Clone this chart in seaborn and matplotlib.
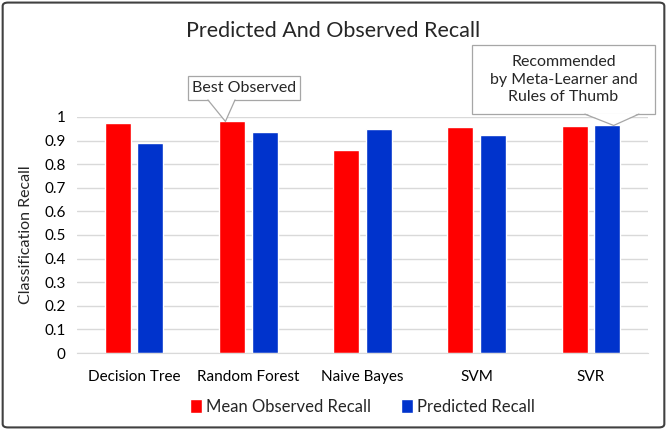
import pandas as pd
import matplotlib.pyplot as plt
import seaborn as sns
from matplotlib.patches import FancyBboxPatch, Rectangle, Polygon

models = ["Decision Tree", "Random Forest", "Naive Bayes", "SVM", "SVR"]
observed = [0.974, 0.981, 0.861, 0.959, 0.963]
predicted = [0.891, 0.936, 0.950, 0.925, 0.964]
series = ["Mean Observed Recall", "Predicted Recall"]
yticks = [0, 0.1, 0.2, 0.3, 0.4, 0.5, 0.6, 0.7, 0.8, 0.9, 1]
ytick_labels = ["0", "0.1", "0.2", "0.3", "0.4", "0.5", "0.6", "0.7", "0.8", "0.9", "1"]

df = pd.DataFrame({
    "Model": models * 2,
    "Series": [series[0]] * len(models) + [series[1]] * len(models),
    "Recall": observed + predicted,
})

sns.set_style("white")
plt.rcParams['font.family'] = ['Lato', 'DejaVu Sans']

fig = plt.figure(figsize=(6.67, 4.3), dpi=100)
ax = fig.add_axes([0.1154, 0.179, 0.856, 0.549])

sns.barplot(data=df, x="Model", y="Recall", hue="Series",
            palette=["#FF0000", "#0033CC"], saturation=1, width=0.57, gap=0.2,
            ax=ax, legend=True)

ax.set_ylim(0, 1)
ax.set_xlim(-0.5, len(models) - 0.5)
ax.set_yticks(yticks)
ax.set_yticklabels(ytick_labels)
ax.yaxis.grid(True, color="#D9D9D9", linewidth=1)
ax.set_axisbelow(True)
for s in ["top", "right", "left"]:
    ax.spines[s].set_visible(False)
ax.spines["bottom"].set_color("#D9D9D9")
ax.tick_params(axis="both", length=0, labelsize=11, colors="#000000", pad=8)
ax.tick_params(axis="x", pad=12)
ax.set_xlabel("")
ax.set_ylabel("Classification Recall", fontsize=11.5, labelpad=8)

ax.legend(loc="upper center", bbox_to_anchor=(0.5, -0.13), ncol=2,
          frameon=False, fontsize=12, handlelength=0.7, handleheight=0.9,
          handletextpad=0.25, columnspacing=1.8)

fig.text(0.5, 0.928, "Predicted And Observed Recall", ha="center", va="center",
         fontsize=15.5)


# callout boxes with a pointer to a bar top
def callout(text, x0, x1, y0, y1, base_l, base_r, tip):
    ax.add_patch(Rectangle((x0, y0), x1 - x0, y1 - y0, fc="white", ec="#A6A6A6",
                           lw=0.9, clip_on=False, zorder=5))
    tri = [(base_l, y0 + 0.004), tip, (base_r, y0 + 0.004)]
    ax.add_patch(Polygon(tri, closed=True, fc="white", ec="none",
                         clip_on=False, zorder=6))
    ax.plot([base_l, tip[0], base_r], [y0, tip[1], y0], color="#A6A6A6",
            lw=0.9, clip_on=False, zorder=6)
    ax.text((x0 + x1) / 2, (y0 + y1) / 2, text, ha="center", va="center",
            fontsize=11.5, linespacing=1.35, zorder=7)


callout("Best Observed", 0.472, 1.453, 1.072, 1.174, 0.647, 0.884,
        (1 - 0.2, observed[1]))
callout("Recommended\nby Meta-Learner and\nRules of Thumb", 2.959, 4.561, 1.012, 1.305,
        3.948, 4.421, (4 + 0.2, predicted[4]))

border = FancyBboxPatch((0.004, 0.006), 0.992, 0.988, boxstyle="round,pad=0,rounding_size=0.008",
                        transform=fig.transFigure, fill=False, ec="#404040", lw=1.5)
fig.patches.append(border)

fig.savefig("out.png", dpi=100)
